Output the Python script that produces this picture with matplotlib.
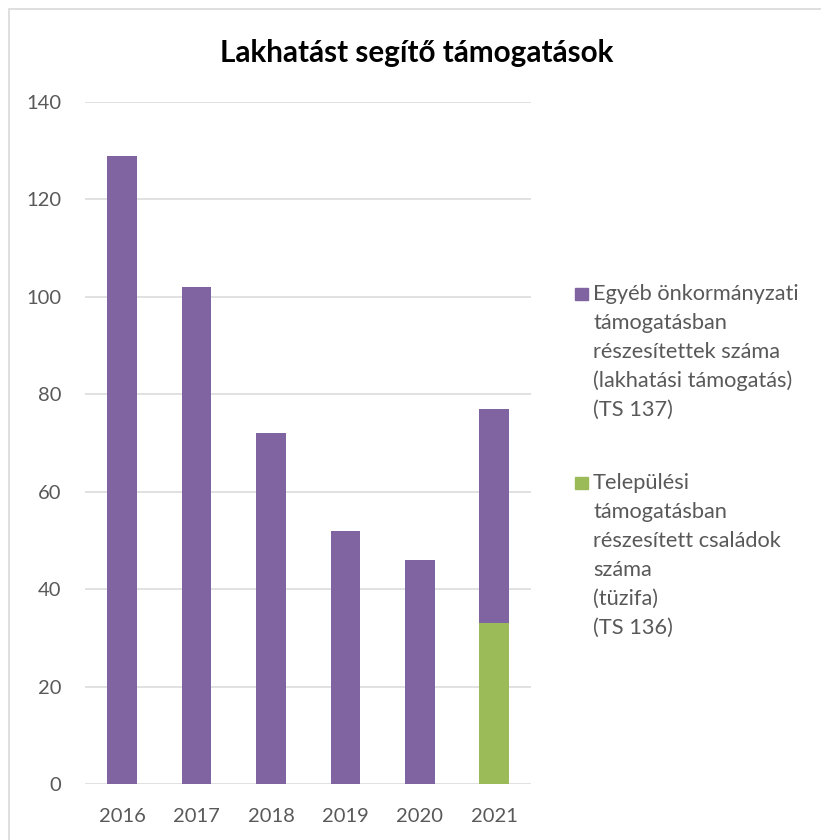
import matplotlib
matplotlib.use("Agg")
import matplotlib.pyplot as plt
from matplotlib.patches import Rectangle

years = ['2016', '2017', '2018', '2019', '2020', '2021']
telepulesi = [0, 0, 0, 0, 0, 33]          # Települési támogatás (tüzifa), TS 136
egyeb = [129, 102, 72, 52, 46, 44]        # Egyéb önkormányzati támogatás, TS 137

label_egyeb = ['Egyéb önkormányzati', 'támogatásban', 'részesítettek száma',
               '(lakhatási támogatás)', '(TS 137)']
label_telep = ['Települési', 'támogatásban', 'részesített családok', 'száma',
               '(tüzifa)', '(TS 136)']

PURPLE = '#8064A2'
GREEN = '#9BBB59'
GRID = '#D9D9D9'
TXT = '#595959'

plt.rcParams['font.family'] = ['Lato', 'DejaVu Sans']

W, H = 821, 840
fig = plt.figure(figsize=(W / 100, H / 100), dpi=100)

# chart frame like the Excel chart area
fig.patches.append(Rectangle((8.5 / W, -0.1), 1.2, 1 - 9.5 / H + 0.1,
                             transform=fig.transFigure, fill=False,
                             edgecolor=GRID, lw=1.2))

ax = fig.add_axes([85 / W, 1 - 784 / H, (531.4 - 85) / W, (784 - 102) / H])
x = range(len(years))
ax.bar(x, telepulesi, width=0.4, color=GREEN, zorder=3)
ax.bar(x, egyeb, width=0.4, bottom=telepulesi, color=PURPLE, zorder=3)

ax.set_xlim(-0.5, 5.5)
ax.set_ylim(0, 140)
ax.set_yticks(range(0, 141, 20))
ax.set_xticks(list(x))
ax.set_xticklabels(years)
ax.grid(axis='y', color=GRID, lw=1.1, zorder=0)
for s in ax.spines.values():
    s.set_visible(False)
ax.tick_params(axis='both', length=0, colors=TXT, labelsize=14.5)
ax.tick_params(axis='y', pad=17)
ax.tick_params(axis='x', pad=17)

fig.text(0.508, 1 - 53 / H, 'Lakhatást segítő támogatások', ha='center',
         va='center', fontsize=21.3, fontweight='bold', color='black')

# legend drawn by hand so the square sits next to the first line
def legend_entry(y0, color, lines):
    fig.patches.append(Rectangle((575 / W, 1 - (y0 + 6) / H), 13 / W, 12 / H,
                                 transform=fig.transFigure, color=color))
    for i, line in enumerate(lines):
        fig.text(593 / W, 1 - (y0 + i * 29.0) / H, line, ha='left',
                 va='center', fontsize=15.7, color=TXT)

legend_entry(294, PURPLE, label_egyeb)
legend_entry(483, GREEN, label_telep)

fig.savefig('out.png', dpi=100)
